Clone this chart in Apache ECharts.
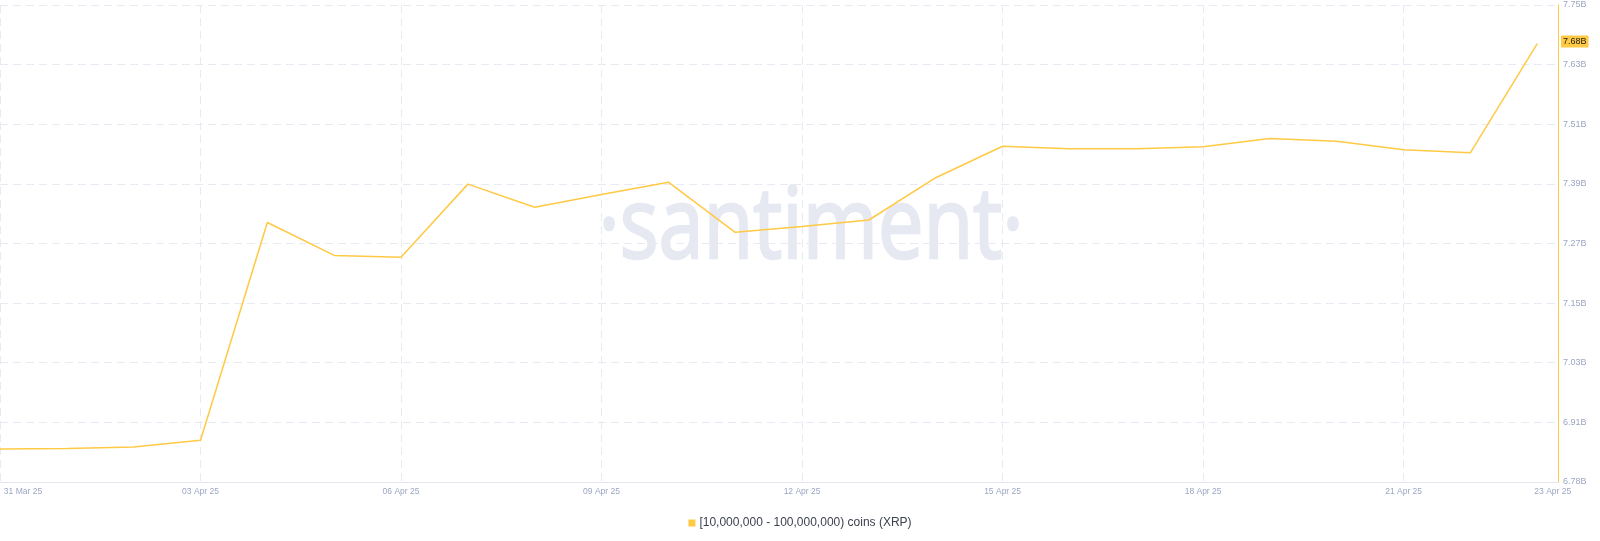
<!DOCTYPE html>
<html>
<head>
<meta charset="utf-8">
<script src="https://cdn.jsdelivr.net/npm/echarts@6/dist/echarts.min.js"></script>
<style>
  html, body { margin: 0; padding: 0; background: #ffffff; }
  #chart { width: 1600px; height: 541px; }
</style>
</head>
<body>
<div id="chart"></div>
<script>
// ---- data ----
const dates = ['31 Mar 25','01 Apr 25','02 Apr 25','03 Apr 25','04 Apr 25','05 Apr 25','06 Apr 25','07 Apr 25',
  '08 Apr 25','09 Apr 25','10 Apr 25','11 Apr 25','12 Apr 25','13 Apr 25','14 Apr 25','15 Apr 25',
  '16 Apr 25','17 Apr 25','18 Apr 25','19 Apr 25','20 Apr 25','21 Apr 25','22 Apr 25','23 Apr 25'];
// holdings of [10M - 100M) XRP wallets, in billions of XRP
const values = [6.851, 6.852, 6.855, 6.869, 7.312, 7.245, 7.241, 7.390,
  7.343, 7.369, 7.394, 7.292, 7.304, 7.317, 7.403, 7.467,
  7.462, 7.462, 7.466, 7.483, 7.477, 7.460, 7.454, 7.676];
const seriesName = '[10,000,000 - 100,000,000) coins (XRP)';
const xGridDays = [0, 3, 6, 9, 12, 15, 18, 21];
const xLabelDays = [0, 3, 6, 9, 12, 15, 18, 21, 23];
const yTicks = [6.784, 6.9053, 7.0266, 7.1479, 7.2692, 7.3905, 7.5118, 7.6331, 7.7544];

// ---- chart ----
const yellow = '#ffc944';
const labelColor = '#9ca6c2';
const gridColor = '#e8eaf3';
const chart = echarts.init(document.getElementById('chart'), null, { renderer: 'canvas' });
const lastIdx = values.length - 1;

chart.setOption({
  animation: false,
  backgroundColor: '#ffffff',
  textStyle: { fontFamily: '"Liberation Sans", Arial, sans-serif' },
  grid: { left: 0, right: 42, top: 5, bottom: 59, containLabel: false },
  graphic: [{
    type: 'text',
    x: 811,
    y: 180,
    z: -1,
    scaleX: 0.82,
    silent: true,
    style: {
      text: '·santiment·',
      fontFamily: '"Open Sans", "Noto Sans", sans-serif',
      fontWeight: 500,
      fontSize: 99,
      textAlign: 'center',
      textVerticalAlign: 'top',
      fill: '#e6e8f2',
      stroke: '#e6e8f2',
      lineWidth: 2.5
    }
  }],
  legend: {
    bottom: 7,
    left: 'center',
    icon: 'rect',
    itemWidth: 7,
    itemHeight: 7,
    itemGap: 10,
    textStyle: { fontSize: 12, color: '#3d4251', padding: [0, 0, 0, -1] },
    data: [seriesName]
  },
  xAxis: {
    type: 'value',
    min: 0,
    max: 23.31,
    axisLine: { show: true, onZero: false, lineStyle: { color: '#e4e6ef', width: 1 } },
    axisTick: { show: false, customValues: xGridDays },
    splitLine: { show: true, lineStyle: { color: gridColor, type: [8, 5], width: 1 } },
    axisLabel: {
      customValues: xLabelDays,
      color: labelColor,
      fontSize: 8.5,
      margin: 5,
      formatter: function (v) {
        const i = Math.round(v);
        if (i === 0) return '{first|' + dates[i] + '}';
        if (i === lastIdx) return '{last|' + dates[i] + '}';
        return dates[i];
      },
      rich: {
        first: { color: labelColor, fontSize: 8.5, padding: [0, 0, 0, 46] },
        last: { color: labelColor, fontSize: 8.5, padding: [0, 0, 0, 31] }
      }
    }
  },
  yAxis: {
    type: 'value',
    position: 'right',
    min: yTicks[0],
    max: yTicks[yTicks.length - 1],
    axisLine: { show: true, onZero: false, lineStyle: { color: yellow, width: 1 } },
    axisTick: { show: false, customValues: yTicks },
    splitLine: { show: true, lineStyle: { color: gridColor, type: [8, 5], width: 1 } },
    axisLabel: {
      customValues: yTicks,
      color: labelColor,
      fontSize: 9,
      margin: 5,
      formatter: function (v) { return v.toFixed(2) + 'B'; }
    }
  },
  series: [{
    name: seriesName,
    type: 'line',
    clip: false,
    data: values.map(function (v, i) { return [i, v]; }),
    showSymbol: false,
    symbol: 'none',
    lineStyle: { color: yellow, width: 1.5 },
    itemStyle: { color: yellow },
    z: 3,
    markLine: {
      silent: true,
      symbol: 'none',
      lineStyle: { color: 'rgba(0,0,0,0)', width: 0, type: 'solid' },
      label: {
        show: true,
        position: 'end',
        distance: 3,
        backgroundColor: yellow,
        color: '#1b1b1b',
        fontSize: 9,
        padding: [2, 2, 1, 2],
        borderRadius: 1,
        formatter: function (p) { return Number(p.value).toFixed(2) + 'B'; }
      },
      data: [{ yAxis: values[lastIdx] }]
    }
  }]
});
</script>
</body>
</html>
